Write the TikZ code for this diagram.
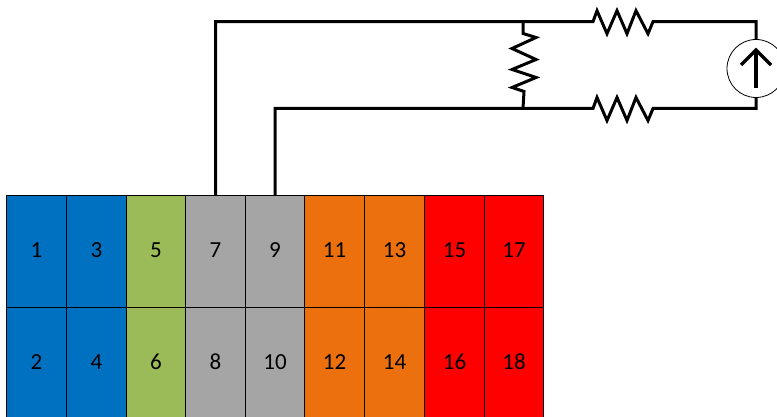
\documentclass[tikz,border=0pt]{standalone}
\usepackage{fontspec}
\setmainfont{Carlito}
\definecolor{cblue}{HTML}{0070C0}
\definecolor{cgreen}{HTML}{9BBB59}
\definecolor{cgray}{HTML}{A5A5A5}
\definecolor{corange}{HTML}{EC700D}
\definecolor{cred}{HTML}{FF0000}
\tikzset{
  cellbox/.style={draw=black,line width=0.9pt,inner sep=0pt,outer sep=0pt,anchor=north west,
    minimum height=112pt,font=\fontsize{23}{25}\selectfont,text=black,text height=15pt,text depth=2pt},
  wire/.style={line width=3pt,line join=miter,line cap=butt},
  srcbox/.style={circle,draw=black,line width=0.8pt,fill=white,minimum size=58pt,inner sep=0pt,outer sep=0pt}
}
\begin{document}
\begin{tikzpicture}[x=1pt,y=-1pt]
\useasboundingbox (0,0) rectangle (777,417);
\begin{scope}
\clip (0,0) rectangle (777,417);
\foreach \n/\x/\w/\c in {1/6.5/60/cblue,3/66.5/60/cblue,5/126.5/59/cgreen,7/185.5/60/cgray,9/245.5/59/cgray,11/304.5/60/corange,13/364.5/60/corange,15/424.5/60/cred,17/484.5/59/cred}{
  \node[cellbox,fill=\c,minimum width=\w pt] (c\n) at (\x,195) {\n};
}
\foreach \n/\x/\w/\c in {2/6.5/60/cblue,4/66.5/60/cblue,6/126.5/59/cgreen,8/185.5/60/cgray,10/245.5/59/cgray,12/304.5/60/corange,14/364.5/60/corange,16/424.5/60/cred,18/484.5/59/cred}{
  \node[cellbox,fill=\c,minimum width=\w pt] (c\n) at (\x,307) {\n};
}
\node[srcbox] (src) at (756,68.5) {};
\coordinate (tl) at (c7.north |- 0,21.7);
\coordinate (bl) at (c9.north |- 0,108.5);
\coordinate (tj) at (523,21.7);
\coordinate (bj) at (523,108.5);
\coordinate (tr) at (756,21.7);
\coordinate (br) at (756,108.5);
\draw[wire] (c7.north) -- (tl) -- (tj)
  -- (593,21.7) -- (597,10.7) -- (607,33.7) -- (617,10.7) -- (627,33.7) -- (636,10.7) -- (648,33.7) -- (653,21.7)
  -- (tr) -- (src.north);
\draw[wire] (c9.north) -- (bl) -- (bj)
  -- (593,108.5) -- (597,97.5) -- (607,120.5) -- (617,97.5) -- (627,120.5) -- (636,97.5) -- (648,120.5) -- (653,108.5)
  -- (br) -- (src.south);
\draw[wire] (tj) -- (523,33.5) -- (536,37.5) -- (512,48.5) -- (536,59.5) -- (512,69.5) -- (536,77.5) -- (512,87.5) -- (524,91.5) -- (bj);
\draw[wire,line width=3.5pt] (756,88) -- (756,50);
\draw[wire,line width=3.5pt] (741,65) -- (756,50) -- (771,65);
\end{scope}
\end{tikzpicture}
\end{document}
